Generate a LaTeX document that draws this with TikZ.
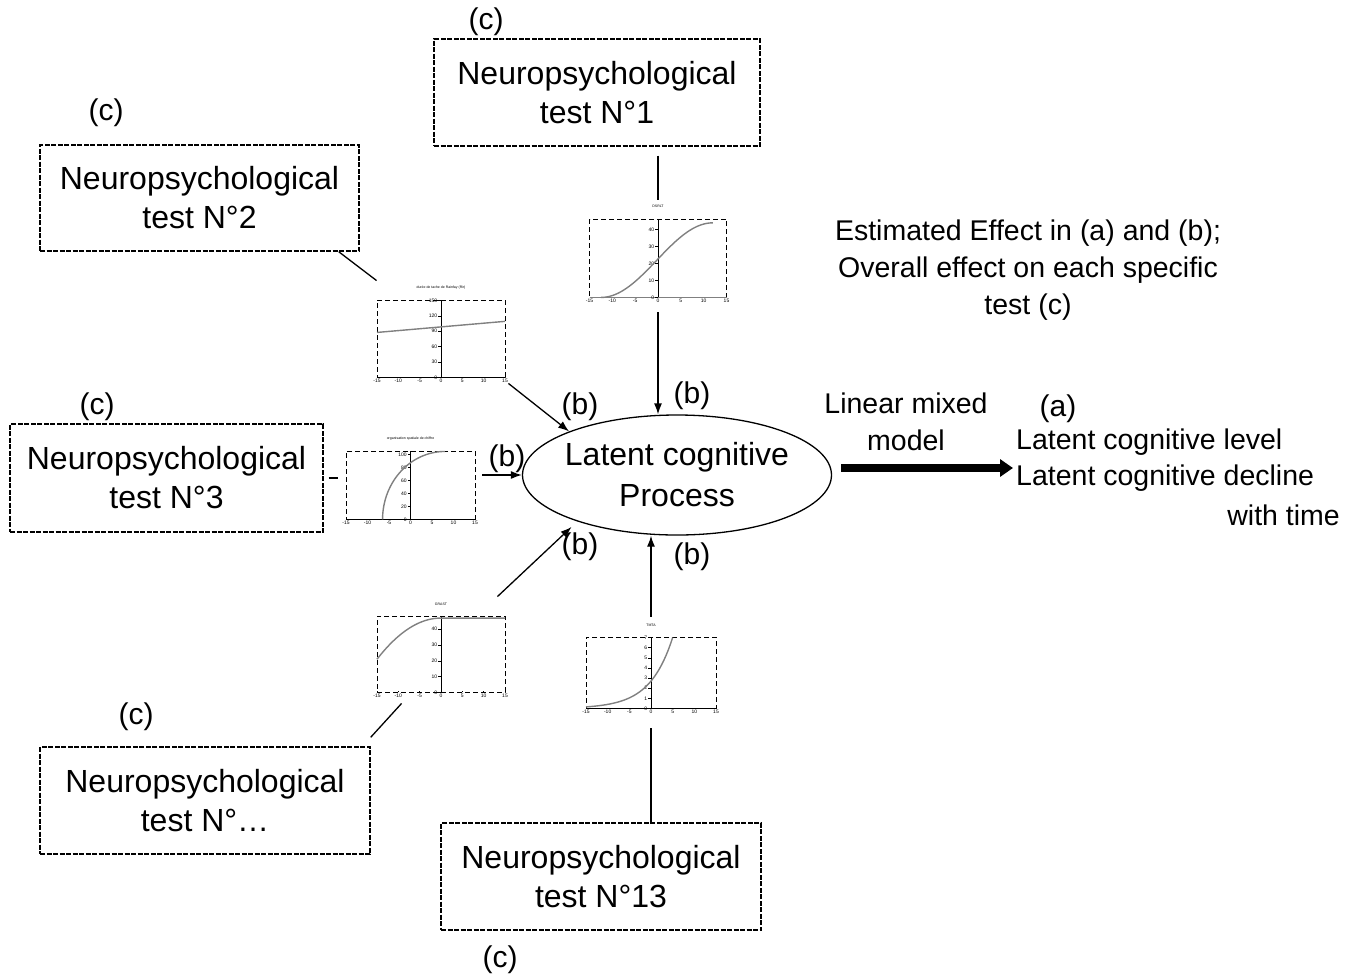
\documentclass[tikz,border=0pt]{standalone}
\usepackage{fontspec}
\setmainfont{Liberation Sans}
\usetikzlibrary{arrows.meta,shapes.geometric,positioning}
\newcommand{\boxfont}{\fontsize{32}{39}\selectfont}
\newcommand{\ellfont}{\fontsize{32}{41}\selectfont}
\newcommand{\lblfont}{\fontsize{30}{36}\selectfont}
\newcommand{\sidefont}{\fontsize{28.5}{37}\selectfont}
\newcommand{\tickfont}{\fontsize{5}{6}\selectfont}
\newcommand{\ttlfont}{\fontsize{3.5}{4}\selectfont}

\tikzset{
  testbox/.style={draw, line width=1.4pt, dash pattern=on 5pt off 1.5pt, align=center, font=\boxfont, inner sep=0pt},
  plotframe/.style={draw, line width=0.9pt, dash pattern=on 5pt off 3pt, inner sep=0pt},
  conn/.style={line width=1.3pt},
  arr/.style={conn, -{Latex[length=11pt,width=8pt]}},
  curve/.style={line width=1.4pt, gray},
  ticklab/.style={font=\tickfont, inner sep=1pt},
}

\begin{document}
\begin{tikzpicture}[x=1pt, y=-1pt]
    \useasboundingbox (0,0) rectangle (1360,978);

    % Tests
    \node[testbox, minimum width=326pt, minimum height=107pt] (t1) at (597,92.5) {Neuropsychological\\test N°1};
    \node[testbox, minimum width=319pt, minimum height=106pt] (t2) at (199.5,198) {Neuropsychological\\test N°2};
    \node[testbox, minimum width=313pt, minimum height=108pt] (t3) at (166.5,478) {Neuropsychological\\test N°3};
    \node[testbox, minimum width=330pt, minimum height=107pt] (t4) at (205,800.5) {Neuropsychological\\test N°…};
    \node[testbox, minimum width=320pt, minimum height=107pt] (t5) at (601,876.5) {Neuropsychological\\test N°13};

    \node[font=\lblfont] (c1) at (486,22) {(c)};
    \node[font=\lblfont] (c2) at (106,113) {(c)};
    \node[font=\lblfont] (c3) at (97,407) {(c)};
    \node[font=\lblfont] (c4) at (136,717) {(c)};
    \node[font=\lblfont] (c5) at (500,960) {(c)};

    % Latent process
    \node[draw, ellipse, line width=1.3pt, minimum width=309pt, minimum height=120pt, inner sep=0pt] (lat) at (677,475) {};
    \node[font=\ellfont, align=center] (lattxt) at (lat) {Latent cognitive\\Process};

    % Plot 1
    \node[plotframe, minimum width=137pt, minimum height=78pt] (p1) at (658,258) {};
    \begin{scope}[shift={(p1.south)}, x=4.567pt, y=1.696pt]
      \draw[line width=1.2pt, gray] (-15,0) -- (15,0);
      \draw (0,0) -- (0,46);
      \foreach \t in {-15,-10,...,15} \node[ticklab, below] (p1x\t) at (\t,0) {\t};
      \foreach \t in {0,10,...,40} {\draw (-0.6,\t) -- (0,\t); \node[ticklab, left] (p1y\t) at (-0.6,\t) {\t};}
      \draw[curve, domain=-12.5:12, samples=40] plot (\x, {22*(1-cos(180*(\x+12.5)/24.5))});
      \node[ticklab, font=\ttlfont] (p1t) at (0,54) {DSRLT};
    \end{scope}

    % Plot 2
    \node[plotframe, minimum width=128pt, minimum height=77pt] (p2) at (441,338.5) {};
    \begin{scope}[shift={(p2.south)}, x=4.267pt, y=0.5133pt]
      \draw (-15,0) -- (15,0);
      \draw (0,0) -- (0,150);
      \foreach \t in {-15,-10,...,15} \node[ticklab, below] (p2x\t) at (\t,0) {\t};
      \foreach \t in {0,30,...,150} {\draw (-0.6,\t) -- (0,\t); \node[ticklab, left] (p2y\t) at (-0.6,\t) {\t};}
      \draw[curve, domain=-15:15] plot (\x, {98.5+0.72*\x});
      \node[ticklab, font=\ttlfont] (p2t) at (0,175) {durée de tache de Rainfay (Rir)};
    \end{scope}

    % Plot 3
    \node[plotframe, minimum width=129pt, minimum height=68pt] (p3) at (410.5,485) {};
    \begin{scope}[shift={(p3.south)}, x=4.3pt, y=0.6476pt]
      \draw (-15,0) -- (15,0);
      \draw (0,0) -- (0,105);
      \foreach \t in {-15,-10,...,15} \node[ticklab, below] (p3x\t) at (\t,0) {\t};
      \foreach \t in {0,20,...,100} {\draw (-0.6,\t) -- (0,\t); \node[ticklab, left] (p3y\t) at (-0.6,\t) {\t};}
      \draw[curve, domain=0:90, variable=\a, samples=40] plot ({8-14.5*cos(\a)}, {105*sin(\a)});
      \node[ticklab, font=\ttlfont] (p3t) at (0,125) {organisation spatiale de chiffre};
    \end{scope}

    % Plot 4
    \node[plotframe, minimum width=128pt, minimum height=76pt] (p4) at (441,654) {};
    \begin{scope}[shift={(p4.south)}, x=4.267pt, y=1.583pt]
      \draw (0,0) -- (0,48);
      \foreach \t in {-15,-10,...,15} {\draw (\t,0) -- (\t,0.8); \node[ticklab, below] (p4x\t) at (\t,0) {\t};}
      \foreach \t in {0,10,...,40} {\draw (-0.6,\t) -- (0,\t); \node[ticklab, left] (p4y\t) at (-0.6,\t) {\t};}
      \draw[curve, domain=-15:0] plot (\x, {47-26*(\x/15)^2}) -- (15,47);
      \node[ticklab, font=\ttlfont] (p4t) at (0,56) {GRAST};
    \end{scope}

    % Plot 5
    \node[plotframe, minimum width=130pt, minimum height=71pt] (p5) at (651,672.5) {};
    \begin{scope}[shift={(p5.south)}, x=4.333pt, y=10.14pt]
      \draw (-15,0) -- (15,0);
      \draw (0,0) -- (0,7);
      \foreach \t in {-15,-10,...,15} \node[ticklab, below] (p5x\t) at (\t,0) {\t};
      \foreach \t in {0,...,7} {\draw (-0.6,\t) -- (0,\t); \node[ticklab, left] (p5y\t) at (-0.6,\t) {\t};}
      \draw[curve, domain=-15:5, samples=40] plot (\x, {2.7*exp(\x/5.25)});
      \node[ticklab, font=\ttlfont] (p5t) at (0,8.2) {TMTA};
    \end{scope}

    % Connectors
    \draw[conn, shorten <=9pt, shorten >=19pt] (p1.north |- t1.south) -- (p1.north);
    \draw[arr, shorten <=15pt] (p1.south) -- (p1.south |- lat.north);
    \draw[conn] ([xshift=-21pt]t2.south east) -- ([yshift=19pt]p2.north west);
    \draw[arr] ([shift={(3,6)}]p2.south east) -- (lat.158);
    \draw[conn, shorten <=5pt, shorten >=8pt] (t3.east) -- (t3.east -| p3.west);
    \draw[arr, shorten <=7pt] (lat.west -| p3.east) -- (lat.west);
    \draw[arr, shorten >=8pt] ([shift={(-8,-19)}]p4.north east) -- (lat.205);
    \draw[conn] ([yshift=9pt]t4.north east) -- ([shift={(25,11)}]p4.south west);
    \draw[arr, shorten <=20pt] (p5.north) -- (p5.north |- lat.south);
    \draw[conn, shorten <=20pt] (p5.south) -- (p5.south |- t5.north);

    \node[font=\lblfont] (b1) at (580,407) {(b)};
    \node[font=\lblfont] (b2) at (692,396) {(b)};
    \node[font=\lblfont] (b3) at (507,459) {(b)};
    \node[font=\lblfont] (b4) at (580,547) {(b)};
    \node[font=\lblfont] (b5) at (692,557) {(b)};

    % Model output
    \node[font=\sidefont, align=center] (est) at (1028,270) {Estimated Effect in (a) and (b);\\Overall effect on each specific\\test (c)};
    \node[font=\sidefont, align=center] (lmm) at (906,421.5) {Linear mixed\\model};
    \node[font=\lblfont] (a) at (1058,409) {(a)};
    \node[font=\sidefont, anchor=west, inner sep=0pt] (out1) at (1016,442) {Latent cognitive level};
    \node[font=\sidefont, anchor=west, inner sep=0pt] (out2) at (1016,478) {Latent cognitive decline};
    \node[font=\sidefont, anchor=east, inner sep=0pt] (out3) at (1340,515) {with time};
    \draw[line width=8pt, -{Triangle[length=13pt, width=17pt]}] ([shift={(9,-7)}]lat.east) -- ([shift={(-3,-10)}]out2.west);
\end{tikzpicture}
\end{document}
